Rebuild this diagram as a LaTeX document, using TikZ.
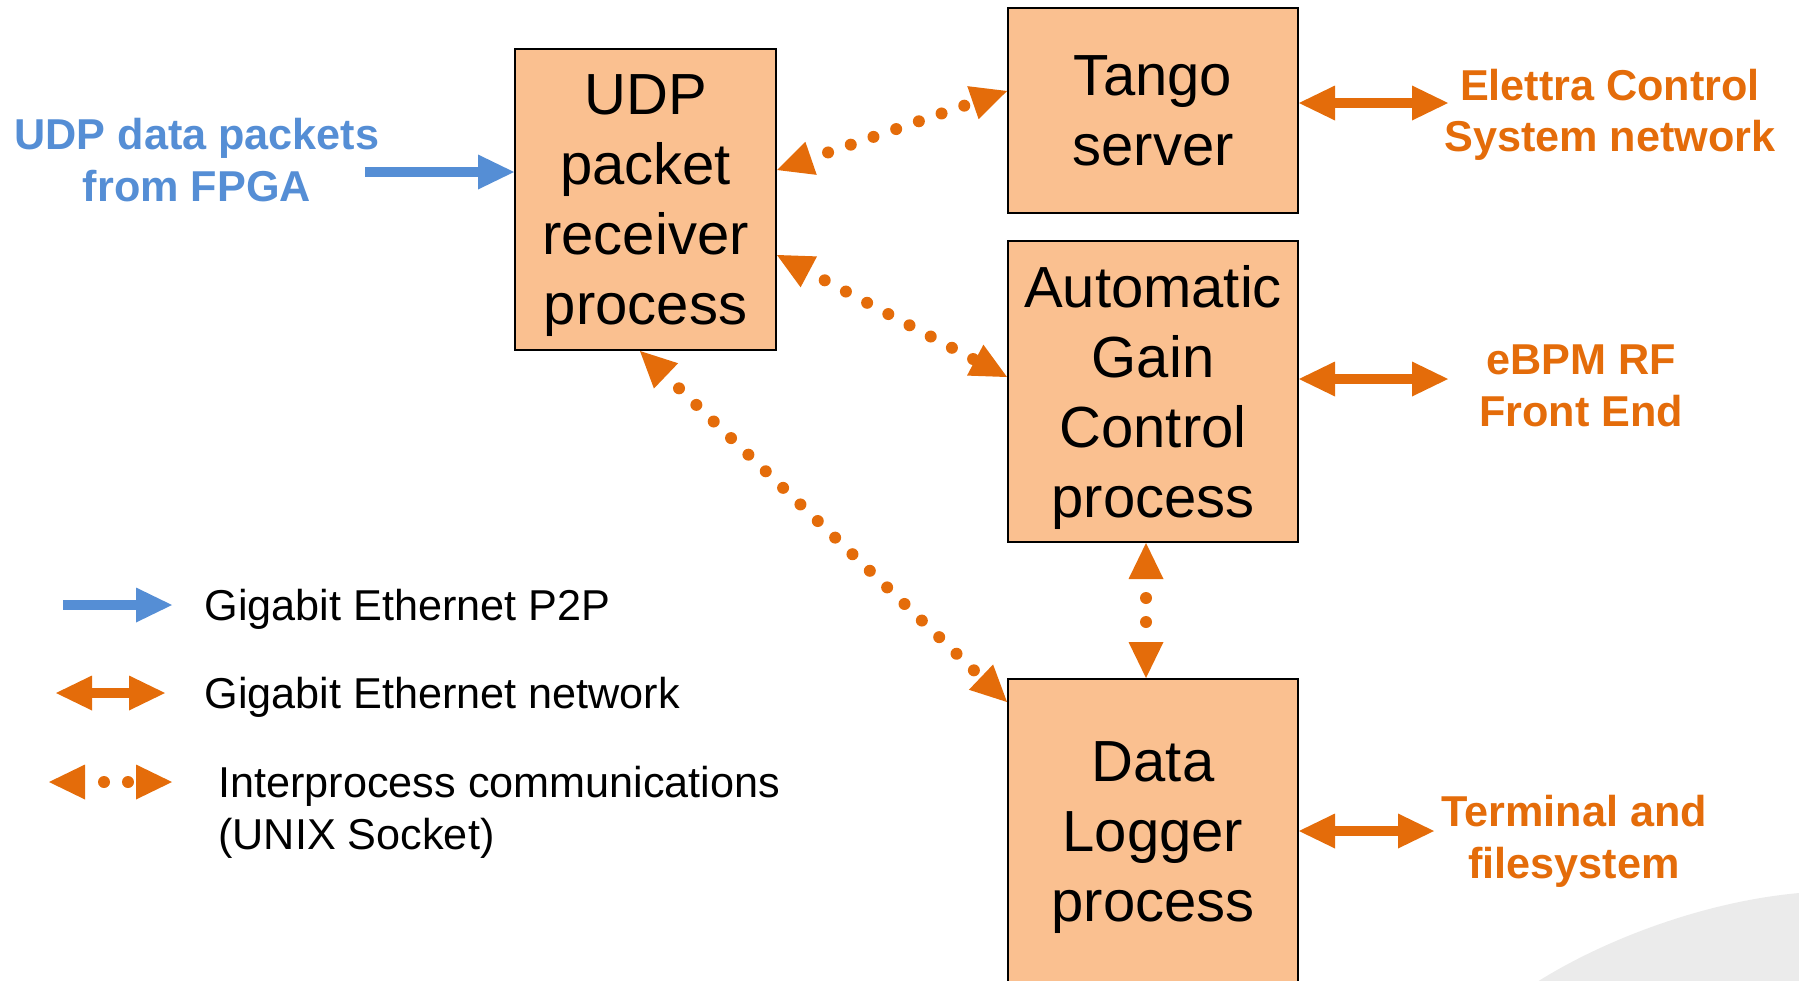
\documentclass[tikz,border=0pt]{standalone}
\usepackage{fontspec}
\setmainfont{Liberation Sans}
\usetikzlibrary{arrows.meta,calc}
\definecolor{boxfill}{RGB}{250,192,144}
\definecolor{orng}{RGB}{228,108,10}
\definecolor{blu}{RGB}{85,142,213}
\definecolor{bggray}{RGB}{235,235,235}
\begin{document}
\begin{tikzpicture}[x=0.5pt,y=-0.5pt,
  proc/.style={draw=black, line width=1pt, fill=boxfill, inner sep=0pt, align=center,
    text depth=0pt, font=\fontsize{29}{35}\selectfont},
  lbl/.style={text=orng, font=\fontsize{21.6}{25.8}\selectfont\bfseries, align=center, inner sep=0pt},
  legtext/.style={font=\fontsize{21.6}{25.8}\selectfont, anchor=base west, inner sep=0pt},
  bigtri/.tip={Triangle[length=18pt,width=17.5pt,line width=0pt]},
  net/.style={orng, line width=5pt, {bigtri}-{bigtri}},
  ipc/.style={orng, line width=6pt, line cap=round, dash pattern=on 0pt off 12pt, dash phase=3pt, {bigtri}-{bigtri}},
  p2p/.style={blu, line width=5pt, -{bigtri}}
]
\useasboundingbox (0,0) rectangle (1799,980);
\clip (0,0) rectangle (1799,980);
\fill[bggray] (1537,982) .. controls (1600,942) and (1700,902) .. (1799,893) -- (1799,982) -- cycle;

% process boxes
\node[proc, minimum width=130.5pt, minimum height=150.5pt] (udp) at (645.5,199.5) {UDP\\packet\\receiver\\process};
\node[proc, minimum width=145pt, minimum height=102.5pt] (tango) at (1153,110.5) {Tango\\server};
\node[proc, minimum width=145pt, minimum height=150.5pt] (agc) at (1153,391.5) {Automatic\\Gain\\Control\\process};
\node[proc, minimum width=145pt, minimum height=153pt] (dl) at (1153,832) {Data\\Logger\\process};

% labels
\node[lbl] (elettra) at (1610,115) {Elettra Control\\System network};
\node[lbl] (ebpm) at (1581,386) {eBPM RF\\Front End};
\node[lbl] (term) at (1574,841.5) {Terminal and\\filesystem};
\node[lbl, text=blu] (fpga) at (197,160) {UDP data packets\\from FPGA};

% P2P input
\coordinate (p2pstart) at (365,172);
\draw[p2p] (p2pstart) -- ([yshift=13.75pt]udp.west);

% interprocess
\draw[ipc] ([yshift=14.75pt]udp.east) -- ([yshift=9.75pt]tango.west);
\draw[ipc] ([yshift=-27.75pt]udp.east) -- ([yshift=7.25pt]agc.west);
\draw[ipc] ([xshift=-2.75pt]udp.south) -- ([yshift=-12pt]dl.north west);
\draw[ipc, dash phase=2.5pt] ([xshift=-3.5pt]agc.south) -- ([xshift=-3.5pt]dl.north);

% network
\coordinate (e1) at (1448,103);
\coordinate (e2) at (1448,379);
\coordinate (e3) at (1434,831);
\draw[net] ([yshift=3.75pt]tango.east) -- (e1);
\draw[net] ([yshift=6.25pt]agc.east) -- (e2);
\draw[net] ([yshift=0.5pt]dl.east) -- (e3);

% legend
\coordinate (l1a) at (63,605);
\coordinate (l1b) at (172,605);
\coordinate (l2a) at (56,693);
\coordinate (l2b) at (165,693);
\coordinate (l3a) at (49,782);
\coordinate (l3b) at (172,782);
\draw[p2p] (l1a) -- (l1b);
\draw[net] (l2a) -- (l2b);
\draw[ipc, dash phase=2.5pt] (l3a) -- (l3b);
\node[legtext] (t1) at (204,620.5) {Gigabit Ethernet P2P};
\node[legtext] (t2) at (204,708.5) {Gigabit Ethernet network};
\node[legtext] (t3) at (218,797.5) {Interprocess communications};
\node[legtext] (t3b) at (218,849.5) {(UNIX Socket)};
\end{tikzpicture}
\end{document}
